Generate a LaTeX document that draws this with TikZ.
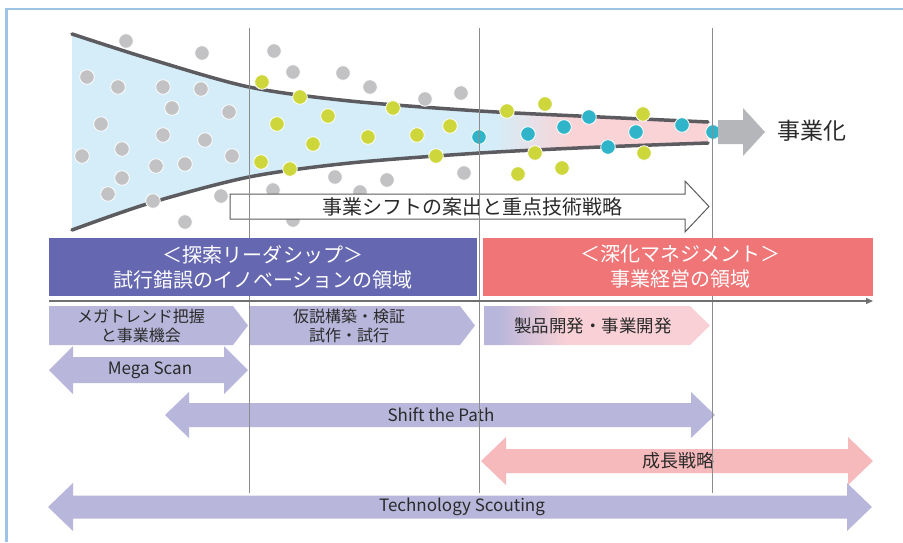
\documentclass[tikz,border=0pt]{standalone}
\usepackage{fontspec}
\setmainfont{Noto Sans CJK JP}
\usetikzlibrary{arrows.meta}
\definecolor{framecol}{HTML}{9FC3E7}
\definecolor{fblue}{HTML}{D5EDF8}
\definecolor{fpink}{HTML}{F9D3D6}
\definecolor{curvecol}{HTML}{5B5B60}
\definecolor{dotgray}{HTML}{C2C2C4}
\definecolor{dotyellow}{HTML}{CDD63B}
\definecolor{dotcyan}{HTML}{2FB4CA}
\definecolor{banpurple}{HTML}{6568B0}
\definecolor{banred}{HTML}{F07577}
\definecolor{lpurple}{HTML}{B8B6DB}
\definecolor{lpink}{HTML}{F7BABC}
\definecolor{cpink}{HTML}{F8D0D5}
\definecolor{arrgray}{HTML}{B5B6B9}
\definecolor{txt}{HTML}{2A2A2A}
\definecolor{vline}{HTML}{8C8C8C}
\pgfdeclarehorizontalshading{chevsh}{100bp}{color(0bp)=(lpurple); color(28bp)=(lpurple); color(43bp)=(cpink); color(100bp)=(cpink)}
\newcommand\dblarrow[6]{% x1 x2 yc bodyhalf headhalf headlen
  (#1,#3) -- (#1+#6,#3-#5) -- (#1+#6,#3-#4) -- (#2-#6,#3-#4) -- (#2-#6,#3-#5) -- (#2,#3)
  -- (#2-#6,#3+#5) -- (#2-#6,#3+#4) -- (#1+#6,#3+#4) -- (#1+#6,#3+#5) -- cycle}
\newcommand\chevron[5]{% x1 xbody xtip ytop ybot
  (#1,#4) -- (#2,#4) -- (#3,{(#4+#5)/2}) -- (#2,#5) -- (#1,#5) -- cycle}
\tikzset{
  dotstyle/.style={draw=white, line width=0.8pt},
  txtnode/.style={text=txt, inner sep=0pt, align=center},
  bantext/.style={text=white, inner sep=0pt, align=center, font=\fontsize{20}{25}\selectfont},
  chevtext/.style={txtnode, font=\fontsize{16}{19}\selectfont},
  lattext/.style={txtnode, font=\fontsize{17}{19}\selectfont},
}
\begin{document}
\begin{tikzpicture}[x=1pt,y=-1pt]
\useasboundingbox (0,0) rectangle (903,542);
% frame
\draw[framecol, line width=2.5pt] (6.5,542) -- (6.5,9) -- (903,9);
% funnel fill
\begin{scope}
  \clip plot[smooth] coordinates {(72,34) (150,59) (249,87) (350,101) (480,111) (600,117) (708,122)}
     -- (708,143) -- plot[smooth] coordinates {(708,143) (600,147) (480,153) (350,163) (249,177) (150,203) (72,230)} -- cycle;
  \fill[fblue] (60,20) rectangle (720,240);
  \shade[left color=fblue, right color=fpink] (495,20) rectangle (570,240);
  \fill[fpink] (569.5,20) rectangle (720,240);
\end{scope}
\draw[curvecol, line width=3.5pt, line cap=round] plot[smooth] coordinates {(72,34) (150,59) (249,87) (350,101) (480,111) (600,117) (708,122)};
\draw[curvecol, line width=3.5pt, line cap=round] plot[smooth] coordinates {(72,230) (150,203) (249,177) (350,163) (480,153) (600,147) (708,143)};
% dots
\foreach \p in {(126,41),(202,53),(87,77),(118,87),(163,87),(201,89),(172,108),(229,112),(101,124),(163,135),(205,140),(122,149),(82,156),(232,156),(156,166),(185,164),(122,178),(108,194),(153,201),(221,196),(185,222),(274,51),(293,72),(343,73),(370,87),(425,99),(335,177),(387,180),(273,190),(293,220),(360,192),(461,93),(464,173)}
  \filldraw[dotstyle, fill=dotgray] \p circle (7.3);
\foreach \p in {(262,82),(300,97),(328,116),(393,108),(277,124),(368,137),(417,135),(450,126),(313,144),(261,162),(290,169),(436,156),(507,111),(545,104),(643,114),(535,153),(644,153),(518,174),(562,168)}
  \filldraw[dotstyle, fill=dotyellow] \p circle (7.3);
\foreach \p in {(479,137),(528,134),(564,127),(589,117),(608,147),(636,132),(682,125),(713,132)}
  \filldraw[dotstyle, fill=dotcyan] \p circle (7.3);
% white arrow
\filldraw[fill=white, draw=curvecol, line width=1pt] (230,194) -- (685,194) -- (685,181) -- (709,206.5) -- (685,232) -- (685,219) -- (230,219) -- cycle;
\node[txtnode, font=\fontsize{20}{22}\selectfont] (shift) at (472,206.5) {事業シフトの案出と重点技術戦略};
% gray arrow
\fill[arrgray] (718,120) -- (743,120) -- (743,108) -- (765,132) -- (743,156) -- (743,144) -- (718,144) -- cycle;
\node[txtnode, font=\fontsize{23}{26}\selectfont] (jigyo) at (812,131) {事業化};
% chevrons
\fill[lpurple] \chevron{49}{233}{248}{306}{345};
\fill[lpurple] \chevron{250}{460}{475}{306}{345};
\shade[shading=chevsh] \chevron{484}{690}{710}{306}{345};
\node[chevtext] (c1) at (141,326) {メガトレンド把握\\と事業機会};
\node[chevtext] (c2) at (349,326) {仮説構築・検証\\試作・試行};
\node[txtnode, font=\fontsize{17.5}{20}\selectfont] (c3) at (593,326) {製品開発・事業開発};
% double arrows
\fill[lpurple] \dblarrow{49}{248}{370}{13}{24}{24};
\fill[lpurple] \dblarrow{165}{715}{415}{12}{23}{24};
\fill[lpink] \dblarrow{481}{873}{461}{12}{24}{25};
\fill[lpurple] \dblarrow{48}{872}{507}{11.5}{24}{25};
\node[lattext] (ms) at (150,370) {Mega Scan};
\node[lattext] (stp) at (441,415) {Shift the Path};
\node[txtnode, font=\fontsize{18}{20}\selectfont] (seicho) at (678,461) {成長戦略};
\node[lattext] (ts) at (462,507) {Technology Scouting};
% vertical lines
\foreach \x in {249,479.5,712}
  \draw[vline, line width=1pt] (\x,28) -- (\x,493);
% axis
\draw[vline!80!black, line width=1.2pt, -{Triangle[length=7pt,width=6pt]}] (49,301) -- (873,301);
% banners
\fill[banpurple] (49,238) rectangle (477,296);
\fill[banred] (483,238) rectangle (873,296);
\node[bantext] (b1) at (263,267) {＜探索リーダシップ＞\\試行錯誤のイノベーションの領域};
\node[bantext] (b2) at (680,267) {＜深化マネジメント＞\\事業経営の領域};
\end{tikzpicture}
\end{document}
